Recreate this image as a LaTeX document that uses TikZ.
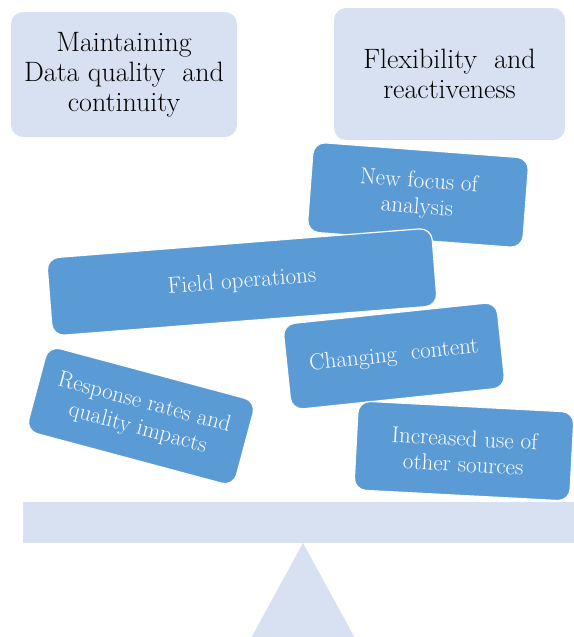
\documentclass[tikz,border=0pt]{standalone}
\usepackage{fontspec}
\definecolor{palebox}{HTML}{D7E1F1}
\definecolor{bluebox}{HTML}{5B9BD5}
\tikzset{
  goalbox/.style={fill=palebox, rounded corners=12pt, align=center, inner sep=0pt,
    font=\fontsize{28}{30}\selectfont},
  factorbox/.style={fill=bluebox, draw=white, line width=1.2pt, rounded corners=12pt,
    align=center, inner sep=0pt, text=white,
    font=\fontsize{23}{26}\selectfont\addfontfeature{LetterSpace=11}}
}
\begin{document}
\begin{tikzpicture}[x=1pt,y=-1pt]
\useasboundingbox (0,0) rectangle (573,637);
% the two sides
\node [goalbox, minimum width=226pt, minimum height=125pt] (quality) at (124,74.5) {Maintaining\\Data quality\ \ and\\continuity};
\node [goalbox, minimum width=231pt, minimum height=132pt] (flex) at (449.5,74) {Flexibility\ \ and\\reactiveness};
% the seesaw
\fill [palebox] (303,543) -- (250,640) -- (356,640) -- cycle;
\node [fill=palebox, inner sep=0pt, minimum width=555pt, minimum height=41pt, anchor=north west] (beam) at (23,502) {};
% the weights
\node [factorbox, rotate=-4.3, minimum width=216pt, minimum height=90pt] (focus) at (418,195) {New focus of\\analysis};
\node [factorbox, rotate=6, minimum width=215pt, minimum height=86pt] (content) at (394,356) {Changing\ \ content};
\node [factorbox, rotate=-15, minimum width=215pt, minimum height=88pt] (response) at (141,416) {Response rates and\\quality impacts};
\node [factorbox, rotate=-3, minimum width=216pt, minimum height=89pt] (sources) at (464,451) {Increased use of\\other sources};
\node [factorbox, rotate=4.5, minimum width=386pt, minimum height=78pt] (field) at (242,282) {Field operations};
\end{tikzpicture}
\end{document}
